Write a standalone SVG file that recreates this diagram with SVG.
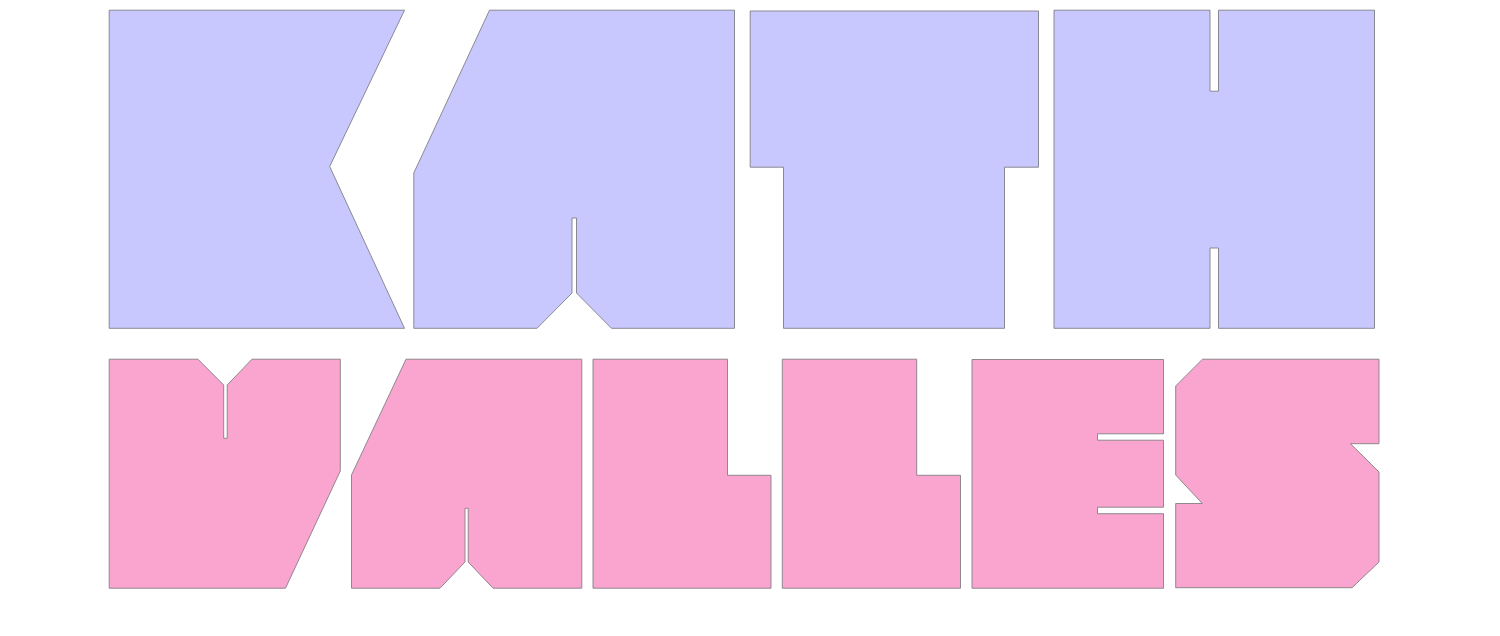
<svg xmlns="http://www.w3.org/2000/svg" width="1500" height="636" viewBox="0 0 1500 636">
<style>
.a{fill:#c8c8ff;stroke:#7f7f88;stroke-width:.9}
.b{fill:#f9a5d0;stroke:#857f85;stroke-width:.9}
</style>
<rect width="1500" height="636" fill="#fff"/>
<g id="kath">
<g id="K"><path class="a" d="M109.2 10.2H404.5L329.7 166.5L404.5 328.3H109.2Z"/></g>
<g id="A1"><path class="a" d="M489.5 10.2H734.5V328.3H611.5L576.5 293V218H572V293L537 328.3H413.8V173Z"/></g>
<g id="T"><path class="a" d="M750.2 11H1038.5V167.2H1004.5V328.3H783.5V167.2H750.2Z"/></g>
<g id="H"><path class="a" d="M1054 10.2H1210V91.2H1218.5V10.2H1374.5V328.3H1218.5V248H1210V328.3H1054Z"/></g>
</g>
<g id="valles">
<g id="V"><path class="b" d="M109.2 359.2H198L223.7 385V438.3H227.2V385L252 359.2H340.3V471L285.5 588.2H109.2Z"/></g>
<g id="A2"><path class="b" d="M406 359.2H581.8V588.2H493L468.2 562V508.3H465V562L440 588.2H351.5V475Z"/></g>
<g id="L1"><path class="b" d="M593 359.2H727.5V475.3H771V588.2H593Z"/></g>
<g id="L2"><path class="b" d="M782.3 359.2H916.7V475.3H960.5V588.2H782.3Z"/></g>
<g id="E"><path class="b" d="M972 359.5H1163.5V433.8H1097.5V440.2H1163.5V507.2H1097.5V513.7H1163.5V588.2H972Z"/></g>
<g id="S"><path class="b" d="M1202.5 359.2H1379V443.7H1350.5L1379 472V562L1352 587.7H1175.7V503.5H1202.3L1175.7 475V386Z"/></g>
</g>
</svg>
